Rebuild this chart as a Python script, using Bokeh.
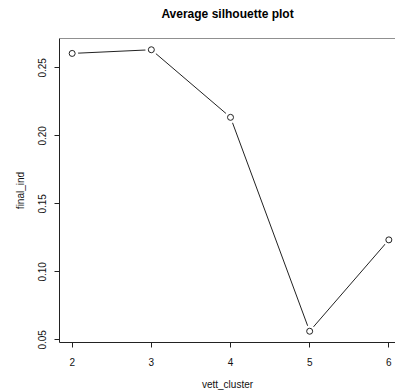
from bokeh.plotting import figure
from bokeh.models import FixedTicker, Span, Range1d
from bokeh.embed import file_html
from bokeh.resources import INLINE

# data
vett_cluster = [2, 3, 4, 5, 6]
final_ind = [0.2606, 0.2633, 0.2136, 0.0563, 0.1235]

x_ticks = [2, 3, 4, 5, 6]
x_tick_labels = ["2", "3", "4", "5", "6"]
y_ticks = [0.05, 0.10, 0.15, 0.20, 0.25]
y_tick_labels = ["0.05", "0.10", "0.15", "0.20", "0.25"]

title_text = "Average silhouette plot"
x_label = "vett_cluster"
y_label = "final_ind"

FONT = "Liberation Sans"

# R-style 4% range expansion
ymin, ymax = min(final_ind), max(final_ind)
ypad = (ymax - ymin) * 0.04
xmin, xmax = min(vett_cluster), max(vett_cluster)
xpad = (xmax - xmin) * 0.04
x_start = xmin - xpad
# frame width 336 px, 4.32 units spans ~342 px in original => right edge cut off
x_end = x_start + (xmax + xpad - x_start) * 336.0 / 342.0
y_start, y_end = ymin - ypad, ymax + ypad

p = figure(width=395, height=392, output_backend="svg", toolbar_location=None,
           x_range=Range1d(x_start, x_end), y_range=Range1d(y_start, y_end),
           min_border_left=59, min_border_right=0, min_border_top=38, min_border_bottom=50,
           title=title_text + "\n")

p.title.align = "center"
p.title.vertical_align = "top"
p.title.text_font = FONT
p.title.text_font_size = "12px"
p.title.text_font_style = "bold"
p.title.text_color = "black"
p.title.standoff = 4

p.outline_line_color = None
p.xgrid.visible = False
p.ygrid.visible = False
p.background_fill_color = "white"
p.border_fill_color = "white"

for ax in (p.xaxis[0], p.yaxis[0]):
    ax.axis_line_color = "#222222"
    ax.major_tick_line_color = "#222222"
    ax.major_tick_in = 0
    ax.major_tick_out = 5
    ax.minor_tick_line_color = None
    ax.major_label_text_font = FONT
    ax.major_label_text_font_size = "10px"
    ax.major_label_text_color = "#111111"
    ax.axis_label_text_font = FONT
    ax.axis_label_text_font_size = "10px"
    ax.axis_label_text_font_style = "normal"
    ax.axis_label_text_color = "#111111"
    ax.major_label_standoff = 8
    ax.axis_label_standoff = 10

p.xaxis[0].major_label_standoff = 10
p.xaxis[0].ticker = FixedTicker(ticks=x_ticks)
p.xaxis[0].major_label_overrides = dict(zip(x_ticks, x_tick_labels))
p.xaxis[0].axis_label = x_label

p.yaxis[0].ticker = FixedTicker(ticks=y_ticks)
p.yaxis[0].major_label_overrides = dict(zip(y_ticks, y_tick_labels))
p.yaxis[0].major_label_orientation = "vertical"
p.yaxis[0].axis_label = y_label

# top border of box
p.add_layout(Span(location=y_end, dimension="width", line_color="#222222", line_width=1))

p.line(vett_cluster, final_ind, line_color="#222222", line_width=1)
# gaps around points like R type="b"
p.scatter(vett_cluster, final_ind, size=12, fill_color="white", line_color=None)
p.scatter(vett_cluster, final_ind, size=6, fill_color=None, line_color="#222222", line_width=1)

open("out.html", "w").write(file_html(p, INLINE))
